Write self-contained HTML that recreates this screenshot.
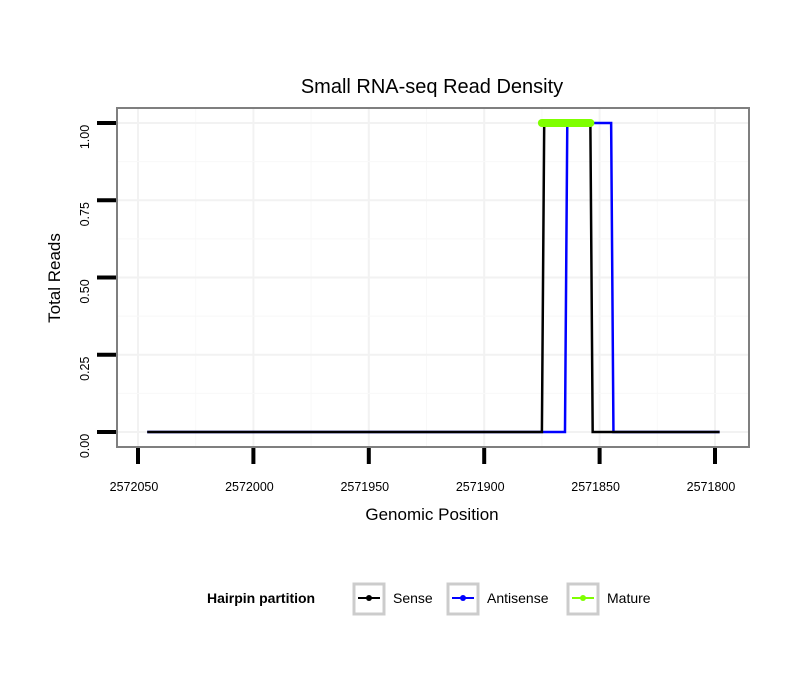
<!DOCTYPE html>
<html><head><meta charset="utf-8"><style>body{margin:0;background:#fff}svg{display:block;font-family:"Liberation Sans",sans-serif}</style></head>
<body>
<svg id="c" width="810" height="690">
<rect width="810" height="690" fill="#fff"/>
<text x="432" y="93" text-anchor="middle" font-size="20">Small RNA-seq Read Density</text>
<g id="grid"></g>
<g id="series"></g>
<rect x="117" y="108" width="632" height="339" fill="none" stroke="#7f7f7f" stroke-width="2"/>
<g id="axes"></g>
<text x="432" y="520" text-anchor="middle" font-size="17">Genomic Position</text>
<text transform="translate(60,278) rotate(-90)" text-anchor="middle" font-size="17">Total Reads</text>
<g>
<text x="207" y="603" font-size="14" font-weight="bold">Hairpin partition</text>
<g><rect x="354" y="584" width="30" height="30" fill="#fff" stroke="#ccc" stroke-width="3"/><line x1="358" y1="598" x2="380" y2="598" stroke="#000" stroke-width="2"/><circle cx="369" cy="598" r="3" fill="#000"/><text x="393" y="603" font-size="14">Sense</text></g>
<g><rect x="448" y="584" width="30" height="30" fill="#fff" stroke="#ccc" stroke-width="3"/><line x1="452" y1="598" x2="474" y2="598" stroke="#00f" stroke-width="2"/><circle cx="463" cy="598" r="3" fill="#00f"/><text x="487" y="603" font-size="14">Antisense</text></g>
<g><rect x="568" y="584" width="30" height="30" fill="#fff" stroke="#ccc" stroke-width="3"/><line x1="572" y1="598" x2="594" y2="598" stroke="#7fff00" stroke-width="2"/><circle cx="583" cy="598" r="3" fill="#7fff00"/><text x="607" y="603" font-size="14">Mature</text></g>
</g>
</svg>
<script>
const xTicks=[2572050,2572000,2571950,2571900,2571850,2571800];
const yTicks=[0,0.25,0.5,0.75,1];
const yTickLabels=["0.00","0.25","0.50","0.75","1.00"];
const senseX=[2572046,2571875,2571874,2571854,2571853,2571798];
const senseY=[0,0,1,1,0,0];
const antisenseX=[2572046,2571865,2571864,2571845,2571844,2571798];
const antisenseY=[0,0,1,1,0,0];
const matureX=[2571875,2571854];
const matureY=[1,1];
const NS="http://www.w3.org/2000/svg";
const X=v=>138+(2572050-v)*577/250;
const Y=v=>432-v*309;
function mk(tag,attrs,parent){const e=document.createElementNS(NS,tag);for(const k in attrs)e.setAttribute(k,attrs[k]);document.getElementById(parent).appendChild(e);return e;}
for(let i=0;i<xTicks.length;i++){
 const l=mk('line',{x1:X(xTicks[i]),x2:X(xTicks[i]),y1:108,y2:447,stroke:'#f2f2f2','stroke-width':2},'grid');
 
 
 if(i<xTicks.length-1){const m=(xTicks[i]+xTicks[i+1])/2;const g=mk('line',{x1:X(m),x2:X(m),y1:108,y2:447,stroke:'#f8f8f8','stroke-width':1},'grid');
 
 }
}
for(let i=0;i<yTicks.length;i++){
 const l=mk('line',{x1:117,x2:749,y1:Y(yTicks[i]),y2:Y(yTicks[i]),stroke:'#f2f2f2','stroke-width':2},'grid');
 
 
 if(i<yTicks.length-1){const m=(yTicks[i]+yTicks[i+1])/2;const g=mk('line',{x1:117,x2:749,y1:Y(m),y2:Y(m),stroke:'#f8f8f8','stroke-width':1},'grid');
 
 }
}
xTicks.forEach(v=>{
 const t=mk('line',{x1:X(v),x2:X(v),y1:448,y2:464,stroke:'#000','stroke-width':4},'axes');
 
 
 const s=mk('text',{x:X(v)-4,y:491,'text-anchor':'middle','font-size':12.5},'axes');s.textContent=v;
 
 
});
yTicks.forEach((v,i)=>{
 const t=mk('line',{x1:97,x2:116,y1:Y(v),y2:Y(v),stroke:'#000','stroke-width':4},'axes');
 
 
 const s=mk('text',{transform:`translate(89,${Y(v)+14}) rotate(-90)`,'text-anchor':'middle','font-size':12.5},'axes');s.textContent=yTickLabels[i];
 
 
});
function pts(xs,ys){return xs.map((x,i)=>X(x)+','+Y(ys[i])).join(' ');}
const a=mk('polyline',{points:pts(antisenseX,antisenseY),fill:'none',stroke:'#00f','stroke-width':2.5},'series');


const s=mk('polyline',{points:pts(senseX,senseY),fill:'none',stroke:'#000','stroke-width':2.5},'series');


const m=mk('polyline',{points:pts(matureX,matureY),fill:'none',stroke:'#7fff00','stroke-width':8,'stroke-linecap':'round'},'series');


</script>
</body></html>
